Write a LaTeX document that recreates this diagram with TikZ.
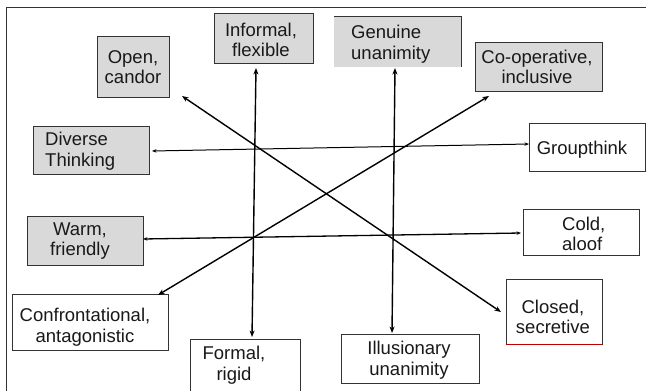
\documentclass[tikz,border=0pt]{standalone}
\usepackage{fontspec}
\setmainfont{Liberation Sans}
\usetikzlibrary{arrows.meta,fit}
\begin{document}
\begin{tikzpicture}[x=1pt,y=-1pt,
  gbox/.style={draw=black!80, line width=0.9pt, fill=gray!30, inner sep=0pt},
  wbox/.style={draw=black!80, line width=0.9pt, fill=white, inner sep=0pt},
  nobox/.style={fill=gray!30, inner sep=0pt},
  txt/.style={align=center, inner sep=0pt, font=\fontsize{18.5}{20.5}\selectfont, text=black!90},
  ltxt/.style={txt, align=left},
  arr/.style={line width=1.4pt, {Stealth[length=6.5pt,width=5pt]}-{Stealth[length=6.5pt,width=5pt]}},
  thinarr/.style={line width=1pt, {Stealth[length=4.5pt,width=3.5pt]}-{Stealth[length=4.5pt,width=3.5pt]}},
  frameline/.style={draw=black!80, line width=0.9pt},
]
\useasboundingbox (0,0) rectangle (646,391);
\fill[white] (0,0) rectangle (646,391);
% frame
\coordinate (fbl) at (6,391);
\coordinate (ftl) at (6,7);
\coordinate (ftr) at (646,7);
\draw[frameline] (fbl) -- (ftl) -- (ftr);

% boxes
\node[gbox, fit={(97,36) (169,97)}] (open) {};
\node[txt] (opent) at (133,67) {Open,\\candor};

\node[gbox, fit={(214,13) (313,63)}] (inf) {};
\node[txt] (inft) at (261,40) {Informal,\\flexible};

\node[gbox, fit={(33,126) (149,174)}] (div) {};
\node[ltxt, anchor=west] (divt) at (45,151) {Diverse\\Thinking};

\node[nobox, fit={(334,17) (461,67)}] (gen) {};
\draw[black!80, line width=0.9pt] (gen.north west) -- (gen.north east) -- (gen.south east);
\node[ltxt, anchor=west] (gent) at (351,44) {Genuine\\unanimity};

\node[gbox, fit={(475,42) (602,91)}] (coop) {};
\node[txt] (coopt) at (537,67) {Co-operative,\\inclusive};

\node[wbox, fit={(529,123) (645,171)}] (group) {};
\node[txt] (groupt) at (582,150) {Groupthink};

\node[gbox, fit={(27,216) (143,265)}] (warm) {};
\node[txt] (warmt) at (80,241) {Warm,\\friendly};

\node[wbox, fit={(12,294) (168,350)}] (conf) {};
\node[txt] (conft) at (85,327) {Confrontational,\\antagonistic};

\node[wbox, fit={(190,339) (300,392)}] (formal) {};
\node[txt] (formalt) at (234,365) {Formal,\\rigid};

\node[wbox, fit={(523,209) (639,255)}] (cold) {};
\node[ltxt, anchor=west] (coldt) at (562,234) {Cold,\\aloof};

\node[wbox, fit={(506,279) (602,344)}] (closed) {};
\draw[red!75!black, line width=1pt] (closed.south west) -- (closed.south east);
\node[txt] (closedt) at (553,317) {Closed,\\secretive};

\node[wbox, fit={(341,334) (479,383)}] (ill) {};
\node[txt] (illt) at (409,360) {Illusionary\\unanimity};

% arrow end points
\coordinate (v1a) at (256,68);
\coordinate (v1b) at (252,337);
\coordinate (v2a) at (395,68);
\coordinate (v2b) at (392,333);
\coordinate (d1a) at (182,96);
\coordinate (d1b) at (501,312);
\coordinate (d2a) at (158,295);
\coordinate (d2b) at (489,96);
\coordinate (h1a) at (152,151);
\coordinate (h1b) at (529,144);
\coordinate (h2a) at (143,239);
\coordinate (h2b) at (521,233);

\draw[arr] (v1a) -- (v1b);
\draw[arr] (v2a) -- (v2b);
\draw[arr] (d1a) -- (d1b);
\draw[arr] (d2a) -- (d2b);
\draw[thinarr] (h1a) -- (h1b);
\draw[thinarr, line width=1.3pt] (h2a) -- (h2b);
\end{tikzpicture}
\end{document}
